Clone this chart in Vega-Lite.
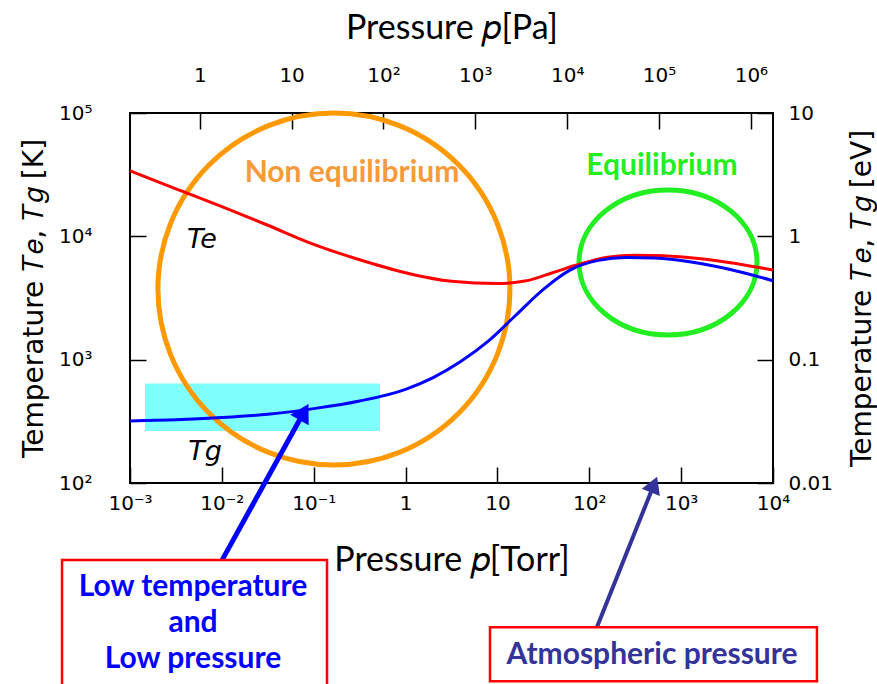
{
  "$schema": "https://vega.github.io/schema/vega-lite/v6.json",
  "width": 643,
  "height": 370,
  "autosize": {"type": "none"},
  "padding": {"left": 130, "top": 113, "right": 104, "bottom": 201},
  "background": "white",
  "config": {
    "view": {"stroke": "black", "strokeWidth": 2},
    "axis": {
      "grid": false,
      "domain": false,
      "offset": -16,
      "ticks": true,
      "tickColor": "black",
      "tickWidth": 1.5,
      "tickSize": 16,
      "labelColor": "black",
      "labelFont": "DejaVu Sans",
      "labelFontSize": 20,
      "labelFlush": false,
      "labelOverlap": false,
      "titleColor": "black",
      "titleFontWeight": "normal"
    }
  },
  "layer": [
    {
      "encoding": {
        "x": {
          "field": "p",
          "type": "quantitative",
          "scale": {"type": "log", "domain": [0.001, 10000], "nice": false},
          "axis": {
            "orient": "bottom",
            "values": [0.001, 0.01, 0.1, 1, 10, 100, 1000, 10000],
            "labelExpr": "datum.value < 0.005 ? '10⁻³' : datum.value < 0.05 ? '10⁻²' : datum.value < 0.5 ? '10⁻¹' : datum.value < 5 ? '1' : datum.value < 50 ? '10' : datum.value < 500 ? '10²' : datum.value < 5000 ? '10³' : '10⁴'",
            "labelPadding": 10,
            "title": "Pressure 𝑝[Torr]",
            "titleFont": "Lato",
            "titleFontSize": 34,
            "titlePadding": 30
          }
        },
        "y": {
          "field": "T",
          "type": "quantitative",
          "scale": {"type": "log", "domain": [100, 100000], "nice": false},
          "axis": {
            "orient": "left",
            "values": [100, 1000, 10000, 100000],
            "labelExpr": "datum.value < 500 ? '10²' : datum.value < 5000 ? '10³' : datum.value < 50000 ? '10⁴' : '10⁵'",
            "labelPadding": 38,
            "title": "Temperature 𝑇𝑒, 𝑇𝑔 [K]",
            "titleFont": "DejaVu Sans",
            "titleFontSize": 28,
            "titlePadding": 10
          }
        }
      },
      "layer": [
        {
          "data": {"values": [{"p": 0.001455, "p2": 0.527, "T": 264, "T2": 642}]},
          "mark": {"type": "rect", "fill": "#80FFFF"},
          "encoding": {"x2": {"field": "p2"}, "y2": {"field": "T2"}}
        },
        {
          "data": {"values": [{"p": 0.166, "T": 3740}]},
          "mark": {"type": "point", "shape": "circle", "filled": false, "stroke": "#FF9900", "strokeWidth": 5, "size": 123904, "opacity": 1}
        },
        {
          "data": {"values": [{"p": 720, "T": 6140}]},
          "mark": {"type": "point", "shape": "M-1,0C-1,-0.45 -0.552,-0.815 0,-0.815C0.552,-0.815 1,-0.45 1,0C1,0.45 0.552,0.815 0,0.815C-0.552,0.815 -1,0.45 -1,0Z", "filled": false, "stroke": "#22EE22", "strokeWidth": 5, "size": 31684, "opacity": 1}
        },
        {
          "data": {"values": [
            {"series": "Te", "p": 0.001, "T": 34040},
            {"series": "Te", "p": 0.003162, "T": 24270},
            {"series": "Te", "p": 0.01, "T": 17400},
            {"series": "Te", "p": 0.03162, "T": 12300},
            {"series": "Te", "p": 0.1, "T": 8610},
            {"series": "Te", "p": 0.3162, "T": 6460},
            {"series": "Te", "p": 1, "T": 5070},
            {"series": "Te", "p": 3.162, "T": 4320},
            {"series": "Te", "p": 10, "T": 4140},
            {"series": "Te", "p": 19.95, "T": 4340},
            {"series": "Te", "p": 39.81, "T": 5070},
            {"series": "Te", "p": 79.43, "T": 5960},
            {"series": "Te", "p": 158.5, "T": 6760},
            {"series": "Te", "p": 316.2, "T": 7030},
            {"series": "Te", "p": 631, "T": 6950},
            {"series": "Te", "p": 1259, "T": 6700},
            {"series": "Te", "p": 3162, "T": 6170},
            {"series": "Te", "p": 10000, "T": 5330},
            {"series": "Tg", "p": 0.001, "T": 318},
            {"series": "Tg", "p": 0.003162, "T": 325},
            {"series": "Tg", "p": 0.01, "T": 339},
            {"series": "Tg", "p": 0.03162, "T": 361},
            {"series": "Tg", "p": 0.1, "T": 401},
            {"series": "Tg", "p": 0.3162, "T": 462},
            {"series": "Tg", "p": 1, "T": 575},
            {"series": "Tg", "p": 1.995, "T": 716},
            {"series": "Tg", "p": 3.981, "T": 966},
            {"series": "Tg", "p": 7.943, "T": 1413},
            {"series": "Tg", "p": 15.85, "T": 2291},
            {"series": "Tg", "p": 31.62, "T": 3715},
            {"series": "Tg", "p": 63.1, "T": 5370},
            {"series": "Tg", "p": 125.9, "T": 6380},
            {"series": "Tg", "p": 251.2, "T": 6730},
            {"series": "Tg", "p": 501.2, "T": 6680},
            {"series": "Tg", "p": 1000, "T": 6380},
            {"series": "Tg", "p": 3162, "T": 5460},
            {"series": "Tg", "p": 10000, "T": 4365}
          ]},
          "mark": {"type": "line", "strokeWidth": 3, "interpolate": "monotone"},
          "encoding": {
            "color": {"field": "series", "type": "nominal", "scale": {"domain": ["Te", "Tg"], "range": ["#FF0000", "#0000FF"]}, "legend": null}
          }
        },
        {
          "data": {"values": [{"p": 0.00608, "T": 9330, "label": "Te"}, {"p": 0.00655, "T": 178, "label": "Tg"}]},
          "mark": {"type": "text", "font": "DejaVu Sans", "fontStyle": "italic", "fontSize": 27, "color": "black", "align": "center", "baseline": "middle"},
          "encoding": {"text": {"field": "label"}}
        },
        {
          "data": {"values": [{"p": 0.261, "T": 32600, "label": "Non equilibrium"}]},
          "mark": {"type": "text", "font": "Lato", "fontWeight": "bold", "fontSize": 30, "color": "#F79A3C", "align": "center", "baseline": "middle"},
          "encoding": {"text": {"field": "label"}}
        },
        {
          "data": {"values": [{"p": 618, "T": 37150, "label": "Equilibrium"}]},
          "mark": {"type": "text", "font": "Lato", "fontWeight": "bold", "fontSize": 30, "color": "#22EE22", "align": "center", "baseline": "middle"},
          "encoding": {"text": {"field": "label"}}
        },
        {
          "data": {"values": [{"p": 0.01005, "T": 23.7}, {"p": 0.0783, "T": 376}]},
          "mark": {"type": "line", "stroke": "#0000FF", "strokeWidth": 5}
        },
        {
          "data": {"values": [{"p": 0.0783, "T": 376}]},
          "mark": {"type": "point", "shape": "triangle-up", "filled": true, "fill": "#0000FF", "size": 450, "angle": 29.6, "opacity": 1, "strokeWidth": 0}
        },
        {
          "data": {"values": [{"p": 121, "T": 6.78}, {"p": 506, "T": 97.3}]},
          "mark": {"type": "line", "stroke": "#333399", "strokeWidth": 4}
        },
        {
          "data": {"values": [{"p": 506, "T": 97.3}]},
          "mark": {"type": "point", "shape": "triangle-up", "filled": true, "fill": "#333399", "size": 380, "angle": 21.8, "opacity": 1, "strokeWidth": 0}
        },
        {
          "data": {"values": [
            {"p": 0.000182, "p2": 0.1396, "T": 23.7, "T2": 2.0},
            {"p": 8.3, "p2": 30100, "T": 6.78, "T2": 2.47}
          ]},
          "mark": {"type": "rect", "fill": "white", "stroke": "#FF0000", "strokeWidth": 2.5},
          "encoding": {"x2": {"field": "p2"}, "y2": {"field": "T2"}}
        },
        {
          "data": {"values": [
            {"p": 0.00485, "T": 14.3, "label": "Low temperature"},
            {"p": 0.00485, "T": 7.31, "label": "and"},
            {"p": 0.00485, "T": 3.73, "label": "Low pressure"}
          ]},
          "mark": {"type": "text", "font": "Lato", "fontWeight": "bold", "fontSize": 30, "color": "#0000FF", "align": "center", "baseline": "middle"},
          "encoding": {"text": {"field": "label"}}
        },
        {
          "data": {"values": [{"p": 482, "T": 4.02, "label": "Atmospheric pressure"}]},
          "mark": {"type": "text", "font": "Lato", "fontWeight": "bold", "fontSize": 30, "color": "#333399", "align": "center", "baseline": "middle"},
          "encoding": {"text": {"field": "label"}}
        }
      ]
    },
    {
      "data": {"values": [{"pa": 1}, {"pa": 1000000}]},
      "mark": {"type": "point", "opacity": 0},
      "encoding": {
        "x": {
          "field": "pa",
          "type": "quantitative",
          "scale": {"type": "log", "domain": [0.174, 1740000], "nice": false},
          "axis": {
            "orient": "top",
            "values": [1, 10, 100, 1000, 10000, 100000, 1000000],
            "labelExpr": "datum.value < 5 ? '1' : datum.value < 50 ? '10' : datum.value < 500 ? '10²' : datum.value < 5000 ? '10³' : datum.value < 50000 ? '10⁴' : datum.value < 500000 ? '10⁵' : '10⁶'",
            "labelPadding": 28,
            "title": "Pressure 𝑝[Pa]",
            "titleFont": "Lato",
            "titleFontSize": 34,
            "titlePadding": 20
          }
        }
      }
    },
    {
      "data": {"values": [{"ev": 0.01}, {"ev": 10}]},
      "mark": {"type": "point", "opacity": 0},
      "encoding": {
        "y": {
          "field": "ev",
          "type": "quantitative",
          "scale": {"type": "log", "domain": [0.01, 10], "nice": false},
          "axis": {
            "orient": "right",
            "values": [0.01, 0.1, 1, 10],
            "labelExpr": "datum.value < 0.05 ? '0.01' : datum.value < 0.5 ? '0.1' : datum.value < 5 ? '1' : '10'",
            "labelPadding": 15,
            "title": "Temperature 𝑇𝑒, 𝑇𝑔 [eV]",
            "titleFont": "DejaVu Sans",
            "titleFontSize": 28,
            "titleAngle": 270,
            "titlePadding": 44
          }
        }
      }
    }
  ],
  "resolve": {"scale": {"x": "independent", "y": "independent"}}
}
